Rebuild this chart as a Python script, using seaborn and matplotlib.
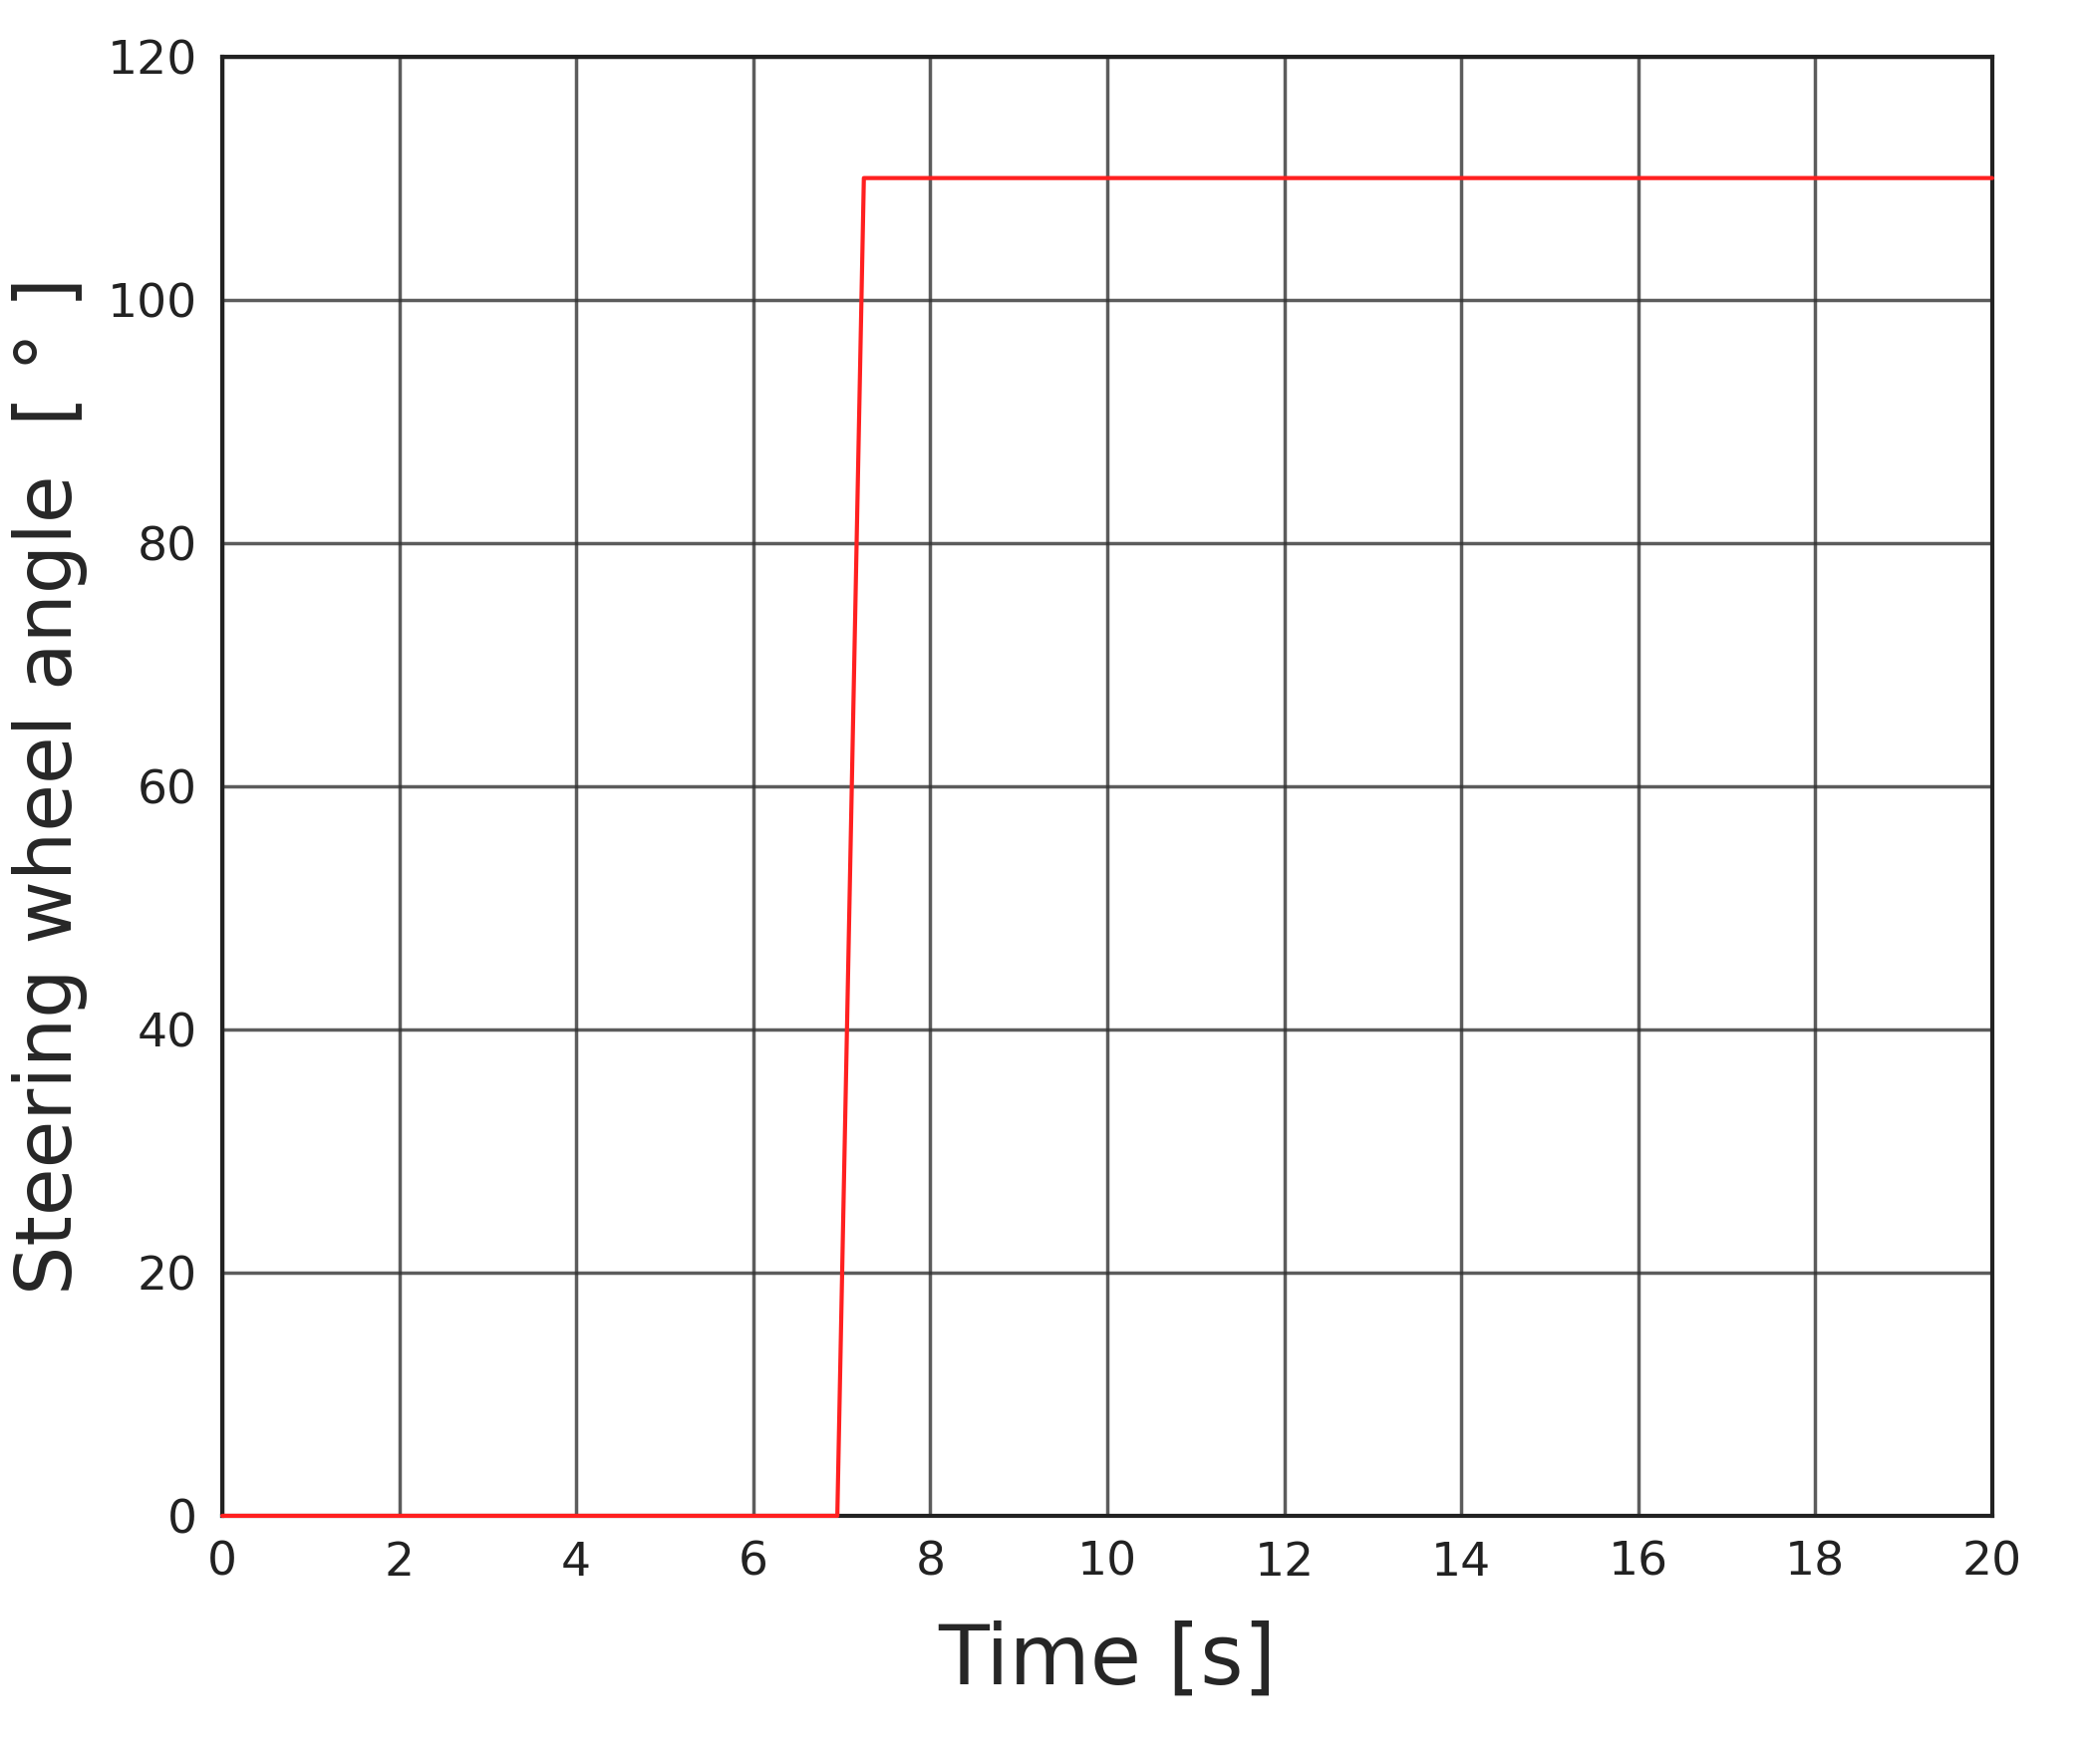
import matplotlib
matplotlib.use("Agg")
import matplotlib.pyplot as plt
import seaborn as sns
import pandas as pd

time_s = [0, 6.95, 7.25, 20]
angle_deg = [0, 0, 110, 110]
xticks = list(range(0, 21, 2))
yticks = list(range(0, 121, 20))

sns.set_style("white")
plt.rcParams['font.family'] = ['DejaVu Sans']
fig = plt.figure(figsize=(20.92, 17.70), dpi=100)
ax = fig.add_axes([0.1066, 0.1407, 0.8489, 0.8273])
df = pd.DataFrame({"t": time_s, "a": angle_deg})
sns.lineplot(data=df, x="t", y="a", ax=ax, color="#ff2020", linewidth=3)
for ln in ax.lines:
    ln.set_clip_on(False)
    ln.set_zorder(5)
ax.set_xlim(0, 20)
ax.set_ylim(0, 120)
ax.set_xticks(xticks)
ax.set_yticks(yticks)
ax.grid(True, color="#333333", linewidth=2.5, alpha=0.8)
for s in ax.spines.values():
    s.set_color("#222222"); s.set_linewidth(3); s.set_visible(True)
ax.tick_params(labelsize=34, colors="#222222", length=0, pad=18)
ax.set_xlabel("Time [s]", fontsize=60, labelpad=25)
ax.set_ylabel("Steering wheel angle  [ ° ]", fontsize=56, labelpad=14)
fig.savefig("out.png", dpi=100)
